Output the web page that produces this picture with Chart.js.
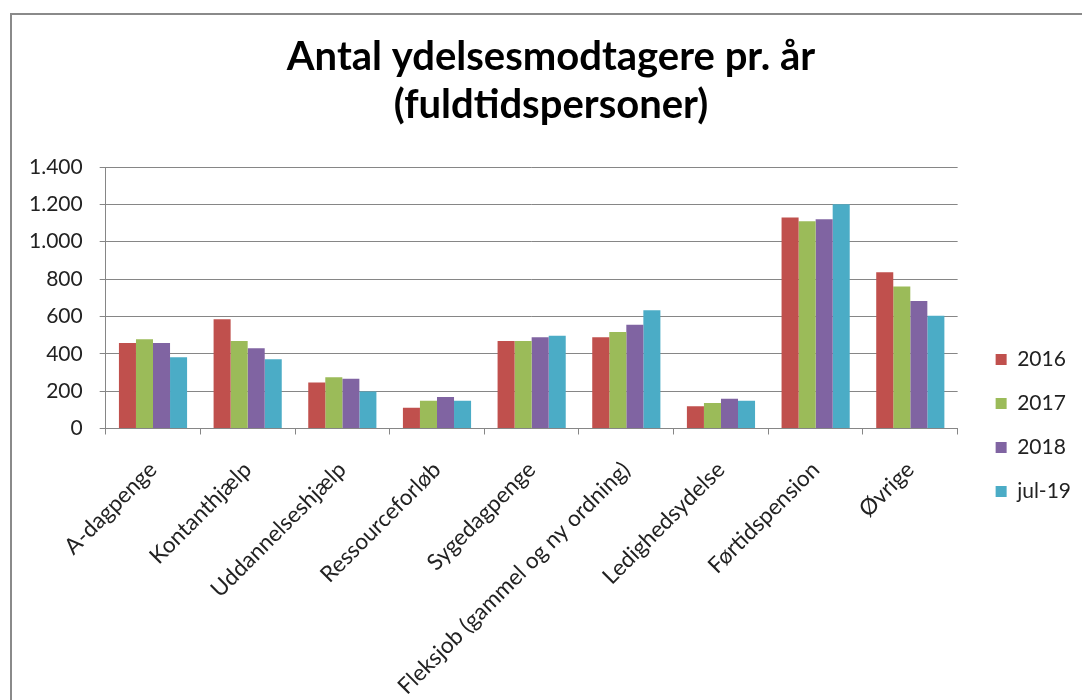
<!DOCTYPE html>
<html>
<head>
<meta charset="utf-8">
<script src="https://cdn.jsdelivr.net/npm/chart.js@4"></script>
<style>
  body { margin: 0; background: #fff; }
  #frame { position: absolute; left: 10px; top: 13px; width: 1200px; height: 800px;
           border-left: 2px solid #8a8a8a; border-top: 2px solid #8a8a8a; }
  #wrap { position: absolute; left: 0; top: 0; width: 1082px; height: 700px; }
</style>
</head>
<body>
<div id="frame"></div>
<div id="wrap"><canvas id="chart"></canvas></div>
<script>
const categories = ['A-dagpenge', 'Kontanthjælp', 'Uddannelseshjælp', 'Ressourceforløb', 'Sygedagpenge',
  'Fleksjob (gammel og ny ordning)', 'Ledighedsydelse', 'Førtidspension', 'Øvrige'];
const v2016 = [458, 585, 246, 111, 469, 489, 119, 1129, 836];
const v2017 = [478, 469, 275, 148, 469, 517, 137, 1109, 760];
const v2018 = [458, 430, 266, 169, 489, 556, 159, 1120, 683];
const vJul19 = [381, 371, 198, 148, 497, 633, 148, 1200, 603];
const yTicks = [0, 200, 400, 600, 800, 1000, 1200, 1400];

const FONT = 'Lato, "Open Sans", sans-serif';

const series = [
  { label: '2016', data: v2016, color: '#C0504D' },
  { label: '2017', data: v2017, color: '#9BBB59' },
  { label: '2018', data: v2018, color: '#8064A2' },
  { label: 'jul-19', data: vJul19, color: '#4BACC6' }
];

// move legend down beside the lower half of the plot and the title a bit right, like the original
const nudge = {
  id: 'nudge',
  afterLayout(chart) {
    const lg = chart.legend;
    lg.top += 293; lg.bottom += 293;
    lg.left += 15; lg.right += 15;
    const t = chart.titleBlock;
    t.left += 12; t.right += 12;
  }
};

new Chart(document.getElementById('chart'), {
  type: 'bar',
  data: {
    labels: categories,
    datasets: series.map(s => ({
      label: s.label,
      data: s.data,
      backgroundColor: s.color,
      borderWidth: 0,
      barPercentage: 1,
      categoryPercentage: 0.72
    }))
  },
  options: {
    responsive: true,
    maintainAspectRatio: false,
    animation: false,
    layout: { padding: { left: 12, right: 16, top: 33, bottom: -22 } },
    plugins: {
      title: {
        display: true,
        text: ['Antal ydelsesmodtagere pr. år', '(fuldtidspersoner)'],
        color: '#000',
        font: { family: FONT, size: 40, weight: 'bold', lineHeight: 1.2 },
        padding: { top: 0, bottom: 38 }
      },
      legend: {
        position: 'right',
        align: 'start',
        labels: {
          color: '#222',
          font: { family: FONT, size: 21 },
          boxWidth: 11,
          boxHeight: 11,
          padding: 23
        }
      },
      tooltip: { enabled: false }
    },
    scales: {
      x: {
        grid: { drawOnChartArea: false, drawTicks: true, tickLength: 6, color: '#868686', offset: true },
        border: { color: '#868686' },
        ticks: {
          color: '#222',
          font: { family: FONT, size: 22.5 },
          minRotation: 45,
          maxRotation: 45,
          padding: 22
        }
      },
      y: {
        min: 0,
        max: 1400,
        afterBuildTicks: axis => { axis.ticks = yTicks.map(v => ({ value: v })); },
        grid: { color: '#868686', tickLength: 6 },
        border: { color: '#868686' },
        ticks: {
          color: '#222',
          font: { family: FONT, size: 21 },
          padding: 17,
          callback: v => v.toLocaleString('da-DK')
        }
      }
    }
  },
  plugins: [nudge]
});
</script>
</body>
</html>
